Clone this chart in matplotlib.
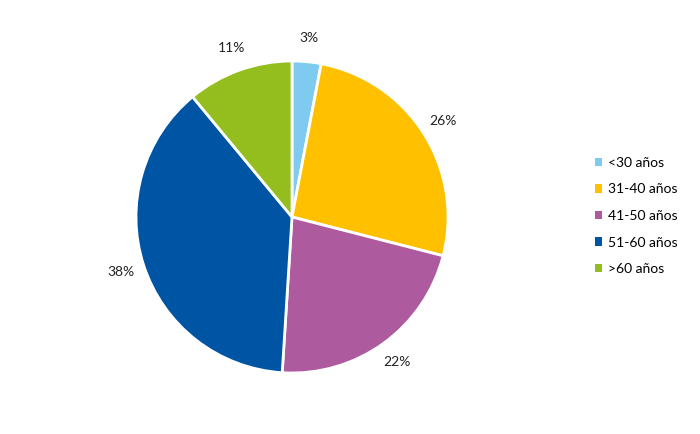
import matplotlib
matplotlib.use("Agg")
import matplotlib.pyplot as plt
from matplotlib.patches import Patch

plt.rcParams["font.family"] = ["Lato", "DejaVu Sans"]

categories = ["<30 años", "31-40 años", "41-50 años", "51-60 años", ">60 años"]
shares = [3, 26, 22, 38, 11]
colors = ["#7fcbef", "#ffc000", "#ae5a9e", "#0054a4", "#94be1e"]

fig = plt.figure(figsize=(7, 4.34), dpi=100)
fig.patch.set_facecolor("white")

# pie centred at about (292, 217) px, radius ~156 px
ax = fig.add_axes([136 / 700, 61 / 434, 312 / 700, 312 / 434])
ax.pie(
    shares,
    colors=colors,
    startangle=90,
    counterclock=False,
    radius=1.0,
    autopct=lambda p: f"{p:.0f}%",
    pctdistance=1.15,
    wedgeprops=dict(edgecolor="white", linewidth=2),
    textprops=dict(fontsize=10, color="#222222"),
)
ax.set_xlim(-1, 1)
ax.set_ylim(-1, 1)
ax.set_aspect("equal")
ax.axis("off")

handles = [Patch(facecolor=c, edgecolor="none") for c in colors]
fig.legend(
    handles,
    categories,
    loc="center left",
    bbox_to_anchor=(582 / 700, 1 - 216 / 434),
    frameon=False,
    fontsize=10,
    handlelength=0.55,
    handleheight=0.55,
    handletextpad=0.45,
    labelspacing=1.05,
)

fig.savefig("out.png", dpi=100)
